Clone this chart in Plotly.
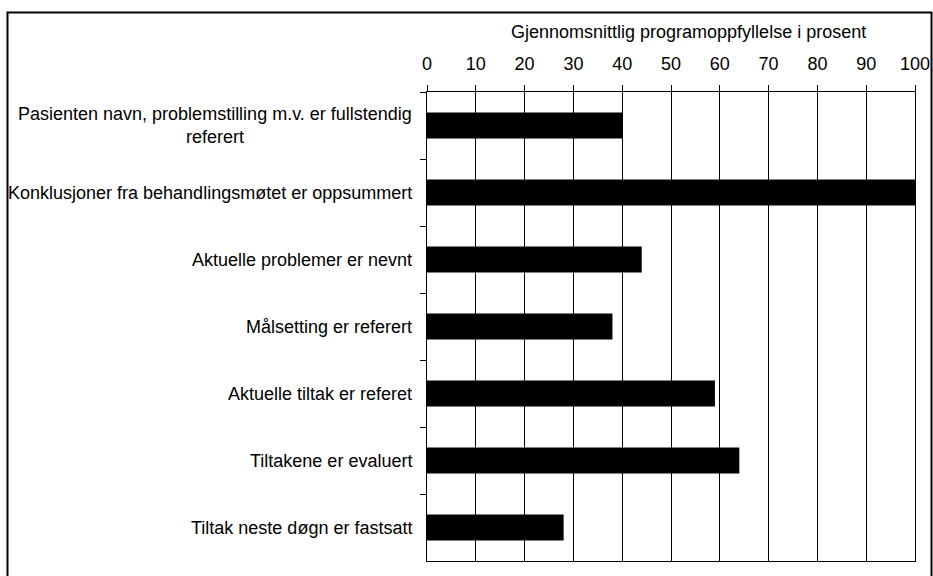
import plotly.graph_objects as go

categories = [
    "Pasienten navn, problemstilling m.v. er fullstendig<br>referert",
    "Konklusjoner fra behandlingsmøtet er oppsummert",
    "Aktuelle problemer er nevnt",
    "Målsetting er referert",
    "Aktuelle tiltak er referet",
    "Tiltakene er evaluert",
    "Tiltak neste døgn er fastsatt",
]
values = [40, 100, 44, 38, 59, 64, 28]
x_ticks = list(range(0, 101, 10))
x_title = "Gjennomsnittlig programoppfyllelse i prosent"

FONT = "Liberation Sans, Arial, sans-serif"
W, H = 933, 576
L, R, T, B = 427, 18, 92, 15
pw, ph = W - L - R, H - T - B

fig = go.Figure(go.Bar(
    x=values, y=categories, orientation="h",
    marker=dict(color="black", line=dict(width=0)),
    width=0.39,
))

fig.update_layout(
    width=W, height=H, autosize=False,
    margin=dict(l=L, r=R, t=T, b=B, pad=0, autoexpand=False),
    paper_bgcolor="white", plot_bgcolor="white",
    font=dict(family=FONT, size=18, color="black"),
    showlegend=False,
    xaxis=dict(
        side="top", range=[0, 100], tickvals=x_ticks,
        showgrid=True, gridcolor="black", gridwidth=1,
        showline=True, linecolor="black", linewidth=1, mirror=True,
        ticks="outside", ticklen=6, tickcolor="black",
        ticklabelstandoff=8, automargin=False,
        tickfont=dict(size=18),
        zeroline=False, fixedrange=True,
    ),
    yaxis=dict(
        autorange="reversed", type="category",
        showticklabels=False, automargin=False,
        ticks="outside", ticklen=6, tickcolor="black", tickson="boundaries",
        showline=True, linecolor="black", linewidth=1, mirror=True,
        showgrid=False, zeroline=False, fixedrange=True,
    ),
)

# axis title
fig.add_annotation(
    x=(688 - L) / pw, xref="paper", y=(H - B - 32) / ph, yref="paper",
    text=x_title, showarrow=False, xanchor="center", yanchor="middle",
    font=dict(size=18, family=FONT),
)

for c in categories:
    fig.add_annotation(
        x=0, xref="paper", y=c, yref="y",
        text=c, showarrow=False, xanchor="right", yanchor="middle",
        xshift=-13, align="center", font=dict(size=18, family=FONT),
    )

# outer frame
fig.add_shape(
    type="rect", xref="paper", yref="paper",
    x0=(7.5 - L) / pw, x1=(931.5 - L) / pw,
    y0=(H - B - 600) / ph, y1=(H - B - 12.5) / ph,
    line=dict(color="black", width=2), fillcolor="rgba(0,0,0,0)",
    layer="below",
)

fig.write_html(
    "out.html",
    config={"responsive": False, "displayModeBar": False},
    post_script=(
        "document.body.style.margin='0';"
        "document.body.style.overflow='hidden';"
    ),
)
